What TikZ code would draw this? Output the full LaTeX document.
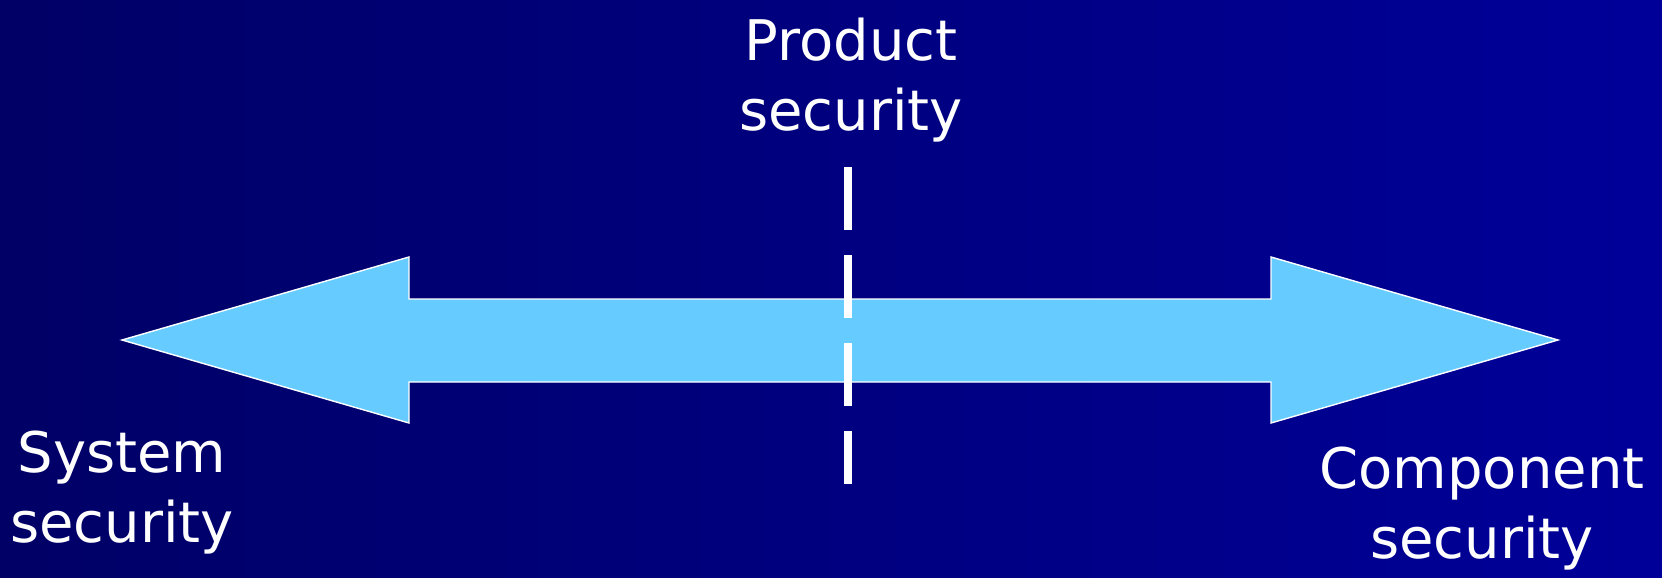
\documentclass[tikz,border=0pt]{standalone}
\usepackage{fontspec}
\newfontfamily\slidefont{DejaVu Sans}
\definecolor{bgleft}{HTML}{000066}
\definecolor{bgright}{HTML}{000099}
\definecolor{arrowblue}{HTML}{66CCFF}
\tikzset{
	lbl/.style={
		text=white, inner sep=0pt, align=center, anchor=base,
		font={\slidefont\fontsize{28}{35}\selectfont}
	},
	bigarrow/.style={fill=arrowblue, draw=white, line width=0.7pt, line join=miter},
	divider/.style={draw=white, line width=4pt, dash pattern=on 31.5pt off 12.5pt},
}

\begin{document}
\begin{tikzpicture}[x=0.5pt, y=-0.5pt]
\shade[left color=bgleft, right color=bgright] (0,0) rectangle (1662,578);
\useasboundingbox (0,0) rectangle (1662,578);
% double headed arrow
\draw[bigarrow] (122,340) -- (409,257) -- (409,299) -- (1271,299) -- (1271,257)
  -- (1558,340) -- (1271,423) -- (1271,382) -- (409,382) -- (409,423) -- cycle;
\node[lbl] (product) at (851,130) {Product\\security};
\node[lbl] (system) at (122,542) {System\\security};
\node[lbl] (component) at (1482,558) {Component\\security};
\coordinate (dashtop) at (848,167);
\coordinate (dashbot) at (848,484);
\draw[divider] (dashtop) -- (dashbot);
\end{tikzpicture}
\end{document}
